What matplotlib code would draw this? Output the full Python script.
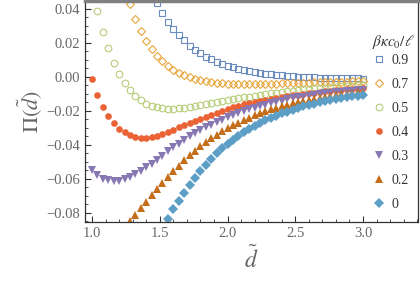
import numpy as np
import matplotlib
matplotlib.use("Agg")
import matplotlib.pyplot as plt
from matplotlib.ticker import MultipleLocator

plt.rcParams["font.family"] = ["Liberation Serif", "DejaVu Serif"]
plt.rcParams["mathtext.fontset"] = "stix"

nan = np.nan
d = np.round(np.arange(1.0, 3.0001, 0.04), 2)

# Pi(d) for each beta*kappa*c0/l (nan = off the axes)
pi_09 = [nan] * 12 + [
    0.0435, 0.0376, 0.0326, 0.0284, 0.0248, 0.0215, 0.0185, 0.0160, 0.0139, 0.0120,
    0.0104, 0.0090, 0.0078, 0.0067, 0.0058, 0.0049, 0.0042, 0.0035, 0.0029, 0.0024,
    0.0019, 0.0015, 0.0012, 0.0009, 0.0006, 0.0004, 0.0002, 0.0000, -0.0001, -0.0002,
    -0.0003, -0.0004, -0.0005, -0.0006, -0.0006, -0.0007, -0.0008, -0.0008, -0.0009]
pi_07 = [nan] * 7 + [
    0.0430, 0.0340, 0.0270, 0.0210, 0.0165, 0.0125, 0.0092, 0.0066, 0.0044, 0.0026,
    0.0011, -0.0001, -0.0011, -0.0019, -0.0026, -0.0031, -0.0035, -0.0038, -0.0040,
    -0.0041, -0.0042, -0.0042, -0.0042, -0.0042, -0.0041, -0.0041, -0.0040, -0.0039,
    -0.0038, -0.0037, -0.0036, -0.0035, -0.0034, -0.0033, -0.0032, -0.0031, -0.0030,
    -0.0029, -0.0029, -0.0028, -0.0027, -0.0026, -0.0026, -0.0025]
pi_05 = [nan] + [
    0.0388, 0.0265, 0.0170, 0.0085, 0.0020, -0.0035, -0.0076, -0.0110, -0.0137, -0.0157,
    -0.0170, -0.0179, -0.0184, -0.0186, -0.0186, -0.0184, -0.0181, -0.0177, -0.0172,
    -0.0167, -0.0161, -0.0155, -0.0149, -0.0143, -0.0137, -0.0131, -0.0126, -0.0120,
    -0.0115, -0.0110, -0.0105, -0.0100, -0.0096, -0.0092, -0.0088, -0.0084, -0.0080,
    -0.0077, -0.0073, -0.0070, -0.0067, -0.0064, -0.0062, -0.0059, -0.0057, -0.0055,
    -0.0053, -0.0051, -0.0049, -0.0047]
pi_04 = [
    -0.0012, -0.0105, -0.0176, -0.0230, -0.0272, -0.0303, -0.0325, -0.0341, -0.0352,
    -0.0356, -0.0356, -0.0352, -0.0345, -0.0335, -0.0323, -0.0310, -0.0296, -0.0283,
    -0.0270, -0.0258, -0.0246, -0.0234, -0.0222, -0.0211, -0.0200, -0.0188, -0.0178,
    -0.0169, -0.0161, -0.0153, -0.0146, -0.0139, -0.0133, -0.0127, -0.0122, -0.0117,
    -0.0112, -0.0107, -0.0103, -0.0099, -0.0095, -0.0092, -0.0088, -0.0085, -0.0082,
    -0.0079, -0.0076, -0.0073, -0.0071, -0.0069, -0.0067]
pi_03 = [
    -0.0547, -0.0576, -0.0598, -0.0608, -0.0612, -0.0610, -0.0602, -0.0590, -0.0572,
    -0.0552, -0.0532, -0.0510, -0.0487, -0.0462, -0.0437, -0.0414, -0.0392, -0.0370,
    -0.0350, -0.0331, -0.0313, -0.0296, -0.0280, -0.0265, -0.0251, -0.0237, -0.0224,
    -0.0212, -0.0201, -0.0190, -0.0180, -0.0171, -0.0162, -0.0154, -0.0146, -0.0139,
    -0.0132, -0.0126, -0.0120, -0.0115, -0.0110, -0.0105, -0.0101, -0.0097, -0.0093,
    -0.0090, -0.0087, -0.0084, -0.0081, -0.0079, -0.0077]
pi_02 = [nan] * 7 + [
    -0.0847, -0.0810, -0.0770, -0.0733, -0.0695, -0.0658, -0.0622, -0.0587, -0.0553,
    -0.0521, -0.0490, -0.0461, -0.0434, -0.0408, -0.0384, -0.0361, -0.0340, -0.0320,
    -0.0301, -0.0284, -0.0268, -0.0253, -0.0239, -0.0226, -0.0213, -0.0202, -0.0191,
    -0.0181, -0.0172, -0.0163, -0.0155, -0.0147, -0.0140, -0.0133, -0.0127, -0.0121,
    -0.0116, -0.0111, -0.0106, -0.0102, -0.0098, -0.0094, -0.0091, -0.0088]
pi_00 = [nan] * 14 + [
    -0.0835, -0.0776, -0.0728, -0.0680, -0.0635, -0.0593, -0.0553, -0.0515, -0.0481,
    -0.0449, -0.0420, -0.0393, -0.0368, -0.0345, -0.0324, -0.0305, -0.0287, -0.0270,
    -0.0254, -0.0240, -0.0227, -0.0214, -0.0203, -0.0192, -0.0182, -0.0173, -0.0164,
    -0.0156, -0.0149, -0.0142, -0.0136, -0.0130, -0.0124, -0.0119, -0.0114, -0.0110,
    -0.0106]

labels = ["0.9", "0.7", "0.5", "0.4", "0.3", "0.2", "0"]
series = [pi_09, pi_07, pi_05, pi_04, pi_03, pi_02, pi_00]
colors = ["#6A8BBE", "#E8A53A", "#B8CC78", "#EB6235", "#8778B3", "#C56E1A", "#5D9EC7"]
markers = ["s", "D", "o", "o", "v", "^", "D"]
filled = [False, False, False, True, True, True, True]
sizes = [4.3, 4.0, 4.8, 4.8, 5.2, 5.2, 4.6]

fig = plt.figure(figsize=(4.2, 2.84), dpi=100)
ax = fig.add_axes([85 / 420, 1 - 222 / 284, 333 / 420, 221 / 284])

for y, lab, c, m, f, s in zip(series, labels, colors, markers, filled, sizes):
    ax.plot(d, y, linestyle="none", marker=m, ms=s, color=c,
            markerfacecolor=c if f else "none", markeredgewidth=0.8 if not f else 0.0,
            label=lab)

ax.set_xlim(0.948, 3.406)
ax.set_ylim(-0.0853, 0.0447)

ax.xaxis.set_major_locator(MultipleLocator(0.5))
ax.xaxis.set_minor_locator(MultipleLocator(0.1))
ax.yaxis.set_major_locator(MultipleLocator(0.02))
ax.yaxis.set_minor_locator(MultipleLocator(0.005))
ax.xaxis.set_major_formatter(plt.FuncFormatter(lambda v, p: f"{v:.1f}"))
ax.yaxis.set_major_formatter(plt.FuncFormatter(
    lambda v, p: ("\u2212" if v < -1e-9 else "") + f"{abs(v):.2f}"))

ax.tick_params(which="both", direction="in", top=False, right=False,
               labelsize=10.5, labelcolor="#666666", color="#333333")
ax.tick_params(which="major", length=4, width=0.8)
ax.tick_params(which="minor", length=2, width=0.6)

for side in ("left", "bottom", "right"):
    ax.spines[side].set_color("#333333")
    ax.spines[side].set_linewidth(0.9)
ax.spines["top"].set_color("#808080")
ax.spines["top"].set_linewidth(2.5)

ax.set_ylabel(r"$\Pi(\tilde{d})$", fontsize=16, color="#666666", labelpad=2)
ax.set_xlabel(r"$\tilde{d}$", fontsize=17, color="#666666", labelpad=4)

leg = ax.legend(loc="upper right", bbox_to_anchor=(0.992, 0.79), frameon=False,
                fontsize=10, labelspacing=0.79, handlelength=1.0, handletextpad=0.4,
                borderaxespad=0.1)
for t in leg.get_texts():
    t.set_color("#333333")
ax.text(0.991, 0.814, r"$\beta\kappa c_0/\ell$", transform=ax.transAxes,
        ha="right", va="center", fontsize=11, color="#333333")

fig.savefig("out.png", dpi=100)
